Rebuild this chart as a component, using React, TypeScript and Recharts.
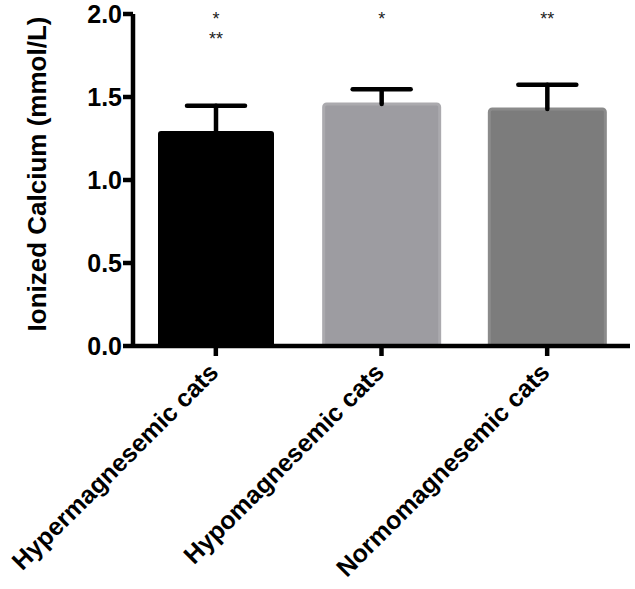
import { BarChart, Bar, XAxis, YAxis, Cell, LabelList } from 'recharts';

const groups = ['Hypermagnesemic cats', 'Hypomagnesemic cats', 'Normomagnesemic cats'];
const means = [1.295, 1.458, 1.428];
const sds = [0.152, 0.088, 0.146];
const sigTop = ['*', '*', '**'];
const sigBottom = ['**', '', ''];
const yTicks = [0, 0.5, 1.0, 1.5, 2.0];

const fills = ['#000000', '#9d9ca1', '#7c7c7c'];
const strokes = ['#000000', '#abaaae', '#8b8b8b'];

const data = groups.map((g, i) => ({
    group: g,
    mean: means[i],
    sd: sds[i],
    sigTop: sigTop[i],
    sigBottom: sigBottom[i],
}));

const FONT = '"Liberation Sans", Arial, Helvetica, sans-serif';

const XTick = ({ x, y, payload }: any) => (
    <g transform={`translate(${x + 4},${y + 16})`}>
        <text transform="rotate(-45)" textAnchor="end" fontSize={25} fontWeight="bold" fill="#000" fontFamily={FONT}>
            {payload.value}
        </text>
    </g>
);

const ErrorCap = ({ x, y, width, height }: any) => {
    const cx = x + width / 2;
    return (
        <g stroke="#000" strokeWidth={4.5} strokeLinecap="round">
            <line x1={cx} y1={y + height} x2={cx} y2={y} />
            <line x1={cx - width / 4} y1={y} x2={cx + width / 4} y2={y} />
        </g>
    );
};

const SigLabel = ({ x, width, index }: any) => (
    <g fontSize={18} fill="#222" fontFamily={FONT} textAnchor="middle">
        <text x={x + width / 2} y={25}>{sigTop[index]}</text>
        {sigBottom[index] && <text x={x + width / 2} y={45}>{sigBottom[index]}</text>}
    </g>
);

export default function App() {
    return (
        <div style={{ position: 'absolute', left: 0, top: 0, background: '#fff' }}>
            <BarChart width={635} height={589} data={data} margin={{ top: 14, right: 5, left: 0, bottom: 0 }}>
                <XAxis
                    dataKey="group"
                    height={243}
                    interval={0}
                    tick={<XTick />}
                    tickSize={10}
                    axisLine={{ stroke: '#000', strokeWidth: 4.5 }}
                    tickLine={{ stroke: '#000', strokeWidth: 4.5 }}
                />
                <YAxis
                    width={133}
                    domain={[0, 2]}
                    ticks={yTicks}
                    tickFormatter={(v: number) => v.toFixed(1)}
                    tickSize={10}
                    tickMargin={1}
                    tick={{ fontSize: 25, fontWeight: 'bold', fill: '#000', fontFamily: FONT }}
                    axisLine={{ stroke: '#000', strokeWidth: 4.5 }}
                    tickLine={{ stroke: '#000', strokeWidth: 4.5 }}
                    label={{
                        content: ({ viewBox }: any) => (
                            <text
                                transform={`translate(${viewBox.x + 46},${viewBox.y + viewBox.height / 2 - 6}) rotate(-90)`}
                                textAnchor="middle"
                                fontSize={26}
                                fontWeight="bold"
                                fill="#000"
                                fontFamily={FONT}
                            >
                                Ionized Calcium (mmol/L)
                            </text>
                        ),
                    }}
                />
                <Bar dataKey="mean" stackId="a" barSize={116} radius={[3, 3, 0, 0]} isAnimationActive={false}>
                    {data.map((d, i) => (
                        <Cell key={d.group} fill={fills[i]} stroke={strokes[i]} strokeWidth={i === 0 ? 0 : 3} />
                    ))}
                </Bar>
                <Bar dataKey="sd" stackId="a" barSize={116} fill="none" shape={<ErrorCap />} isAnimationActive={false}>
                    <LabelList dataKey="sigTop" content={<SigLabel />} />
                </Bar>
            </BarChart>
        </div>
    );
}
